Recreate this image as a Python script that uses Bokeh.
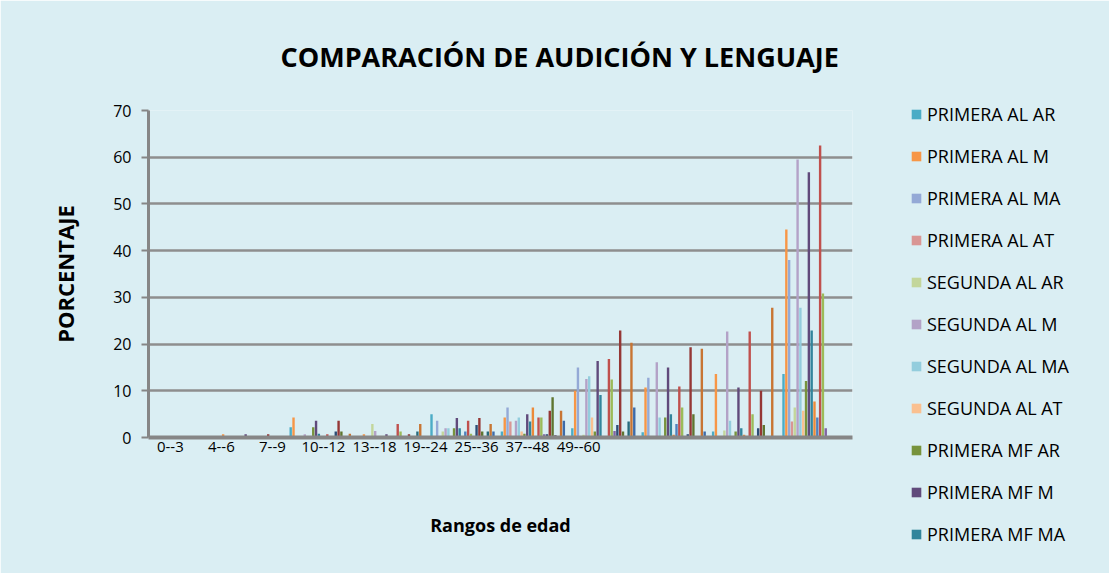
import numpy as np
from bokeh.plotting import figure
from bokeh.models import Range1d, FixedTicker, Legend, LegendItem, ColumnDataSource
from bokeh.embed import file_html
from bokeh.resources import INLINE

# ---------------- data ----------------
age_labels = ["0--3", "4--6", "7--9", "10--12", "13--18", "19--24", "25--36", "37--48", "49--60"]
n_groups = 10          # category slots on the axis
n_slots = 25           # bar slots per category

series_names = [
    "PRIMERA AL AR", "PRIMERA AL M", "PRIMERA AL MA", "PRIMERA AL AT",
    "SEGUNDA AL AR", "SEGUNDA AL M", "SEGUNDA AL MA", "SEGUNDA AL AT",
    "PRIMERA MF AR", "PRIMERA MF M", "PRIMERA MF MA", "PRIMERA MF AT",
    "SEGUNDA MF AR", "SEGUNDA MF M", "SEGUNDA MF MA", "SEGUNDA MF AT",
    "TERCERA AL AR", "TERCERA AL M", "TERCERA AL MA", "TERCERA AL AT",
    "TERCERA MF AR", "TERCERA MF M", "TERCERA MF MA",
]

primera_al_ar = [0, 0, 2.2, 0, 5.0, 1.3, 2.0, 1.1, 1.3, 13.6]
primera_al_m = [0, 0.7, 4.3, 0.7, 0, 4.3, 10.0, 10.7, 13.6, 44.5]
primera_al_ma = [0, 0, 0, 0, 3.6, 6.4, 15.0, 12.8, 0, 38.0]
primera_al_at = [0, 0, 0, 0, 0, 3.4, 0, 0, 0, 3.4]
segunda_al_ar = [0, 0, 0, 2.9, 1.3, 0, 0.6, 0, 1.5, 6.4]
segunda_al_m = [0, 0, 0.7, 1.4, 2.0, 3.6, 12.5, 16.1, 22.7, 59.5]
segunda_al_ma = [0, 0, 0, 0, 2.0, 4.3, 13.1, 4.3, 3.6, 27.8]
segunda_al_at = [0, 0, 0, 0, 0, 1.3, 4.3, 0, 0, 5.7]
primera_mf_ar = [0, 0, 2.2, 0, 2.0, 0.8, 1.3, 4.3, 1.3, 12.1]
primera_mf_m = [0, 0.7, 3.6, 0.7, 4.2, 5.0, 16.4, 15.0, 10.7, 56.8]
primera_mf_ma = [0, 0, 0.8, 0, 2.0, 3.4, 9.1, 5.0, 2.0, 22.9]
primera_mf_at = [0, 0, 0, 0, 0, 6.4, 0, 0.6, 0.6, 7.7]
segunda_mf_ar = [0, 0, 0, 0, 1.3, 0, 0, 2.9, 0, 4.3]
segunda_mf_m = [0, 0, 0.7, 2.9, 3.6, 4.3, 16.8, 10.9, 22.7, 62.5]
segunda_mf_ma = [0, 0, 0, 1.3, 0.8, 4.3, 12.4, 6.4, 5.0, 30.8]
segunda_mf_at = [0, 0, 0, 0, 0, 0.7, 1.4, 0, 0, 2.0]
tercera_al_ar = [0, 0, 1.3, 0, 2.7, 0.7, 2.7, 0.7, 2.0, 0]
tercera_al_m = [0, 0.7, 3.6, 0.7, 4.2, 5.7, 22.9, 19.3, 10.0, 0]
tercera_al_ma = [0, 0, 1.3, 0, 1.3, 8.6, 1.3, 5.0, 2.7, 0]
tercera_al_at = [0, 0, 0, 0, 0, 0.5, 0, 0, 0, 0]
tercera_mf_ar = [0, 0, 0, 1.3, 1.3, 0, 3.4, 0, 0, 0]
tercera_mf_m = [0, 0, 0.8, 2.9, 2.9, 5.7, 20.3, 19.0, 27.8, 0]
tercera_mf_ma = [0, 0, 0, 0, 1.3, 3.6, 6.4, 1.3, 0, 0]

series_values = [
    primera_al_ar, primera_al_m, primera_al_ma, primera_al_at,
    segunda_al_ar, segunda_al_m, segunda_al_ma, segunda_al_at,
    primera_mf_ar, primera_mf_m, primera_mf_ma, primera_mf_at,
    segunda_mf_ar, segunda_mf_m, segunda_mf_ma, segunda_mf_at,
    tercera_al_ar, tercera_al_m, tercera_al_ma, tercera_al_at,
    tercera_mf_ar, tercera_mf_m, tercera_mf_ma,
]

colors = [
    "#4BACC6", "#F79646", "#94A9D6", "#D99694",
    "#C3D69B", "#B3A2C7", "#93CDDD", "#FAC090",
    "#77933C", "#604A7B", "#31859C", "#EC8A3A",
    "#4F81BD", "#C0504D", "#9BBB59", "#8064A2",
    "#2C4D75", "#953735", "#5F7530", "#4D3B62",
    "#276A7C", "#C87533", "#3D6BA8",
]

BG = "#DAEEF3"
GRID = "#8E8E8E"
FONT = "Open Sans"

p = figure(frame_width=704, frame_height=327, output_backend="svg", toolbar_location=None,
           x_range=Range1d(0, n_groups), y_range=Range1d(0, 70),
           min_border_left=148, min_border_right=257, min_border_top=110, min_border_bottom=136)
p.background_fill_color = BG
p.border_fill_color = BG
p.outline_line_color = None

# title
p.title.text = "COMPARACIÓN DE AUDICIÓN Y LENGUAJE"
p.title.align = "left"
p.title.offset = 132
p.title.text_font = FONT
p.title.text_font_size = "27px"
p.title.text_font_style = "bold"
p.title.text_color = "#000000"
p.title.standoff = 71

renderers = []
for i, (name, vals, col) in enumerate(zip(series_names, series_values, colors)):
    xs = np.arange(n_groups) + (i + 0.5) / n_slots
    src = ColumnDataSource(dict(x=xs, top=vals))
    r = p.vbar(x="x", top="top", bottom=0, width=0.85 / n_slots, source=src,
               fill_color=col, line_color=None)
    renderers.append(r)

# y axis
p.yaxis.ticker = FixedTicker(ticks=list(range(0, 71, 10)))
p.yaxis.axis_line_color = "#868686"
p.yaxis.axis_line_width = 3
p.yaxis.major_tick_line_color = "#868686"
p.yaxis.major_tick_line_width = 2
p.yaxis.major_tick_out = 7
p.yaxis.major_tick_in = 0
p.yaxis.minor_tick_line_color = None
p.yaxis.major_label_text_font = FONT
p.yaxis.major_label_text_font_size = "16px"
p.yaxis.major_label_text_color = "#000000"
p.yaxis.major_label_standoff = 10
p.yaxis.axis_label = "PORCENTAJE"
p.yaxis.axis_label_text_font = FONT
p.yaxis.axis_label_text_font_size = "22px"
p.yaxis.axis_label_text_font_style = "bold"
p.yaxis.axis_label_text_color = "#000000"
p.yaxis.axis_label_standoff = 30

# x axis (labels placed where the reference shows them)
label_pos = [0.31 + 0.725 * i for i in range(len(age_labels))]
p.xaxis.ticker = FixedTicker(ticks=label_pos)
p.xaxis.major_label_overrides = {t: lab for t, lab in zip(label_pos, age_labels)}
p.xaxis.axis_line_color = "#868686"
p.xaxis.axis_line_width = 4
p.xaxis.major_tick_line_color = None
p.xaxis.minor_tick_line_color = None
p.xaxis.major_tick_out = 0
p.xaxis.major_label_standoff = 4
p.xaxis.major_label_text_font = FONT
p.xaxis.major_label_text_font_size = "15px"
p.xaxis.major_label_text_color = "#000000"
p.xaxis.axis_label = "Rangos de edad"
p.xaxis.axis_label_text_font = FONT
p.xaxis.axis_label_text_font_size = "18px"
p.xaxis.axis_label_text_font_style = "bold"
p.xaxis.axis_label_text_color = "#000000"
p.xaxis.axis_label_standoff = 58

p.xgrid.grid_line_color = None
p.ygrid.ticker = FixedTicker(ticks=list(range(10, 71, 10)))
p.ygrid.grid_line_color = GRID
p.ygrid.grid_line_width = 2.5

# legend (only the first entries fit, as in the reference)
items = [LegendItem(label=series_names[i], renderers=[renderers[i]]) for i in range(11)]
legend = Legend(items=items, location=(58, -109), padding=0, margin=0,
                border_line_color=None, background_fill_alpha=0,
                glyph_width=12, glyph_height=12, label_height=20, spacing=18,
                label_standoff=5, label_text_font=FONT, label_text_font_size="18px",
                label_text_color="#000000")
p.add_layout(legend, "right")

open("out.html", "w").write(file_html(p, INLINE))
